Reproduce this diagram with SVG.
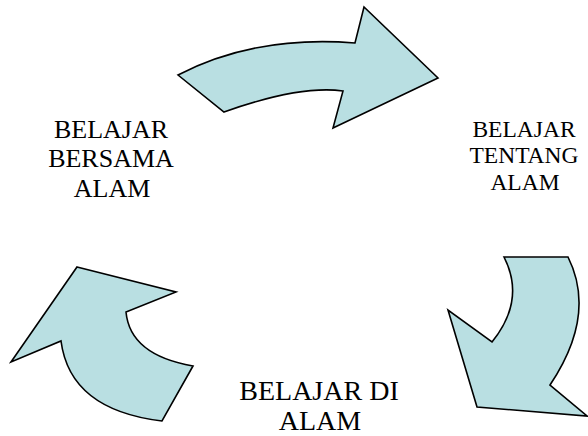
<svg xmlns="http://www.w3.org/2000/svg" width="588" height="436" viewBox="0 0 588 436">
<style>
.arrow{fill:#B9DFE2;stroke:#000;stroke-width:1.6;stroke-linejoin:miter}
.lbl{font-family:"Liberation Serif","Times New Roman",serif;fill:#000;text-anchor:middle}
</style>
<rect width="588" height="436" fill="#fff"/>
<g id="connectors">
<path id="arrow-top" class="arrow" d="M178,75 Q255,35 355,43 L364,7 L438,78 L333,128 L343,91 Q300,85 224,112 Z"/>
<path id="arrow-right" class="arrow" d="M504,257 L568,257 Q597,315 550,385 L587,416 L477,407 L448,310 L492,342 Q526,300 504,257 Z"/>
<path id="arrow-left" class="arrow" d="M77,267 L176,292 L126,312 Q130,355 193,366 L162,421 Q70,410 61,341 L11,362 Z"/>
</g>
<g id="node-bersama">
<text class="lbl" font-size="26" x="111" y="138">BELAJAR</text>
<text class="lbl" font-size="26" x="111" y="167">BERSAMA</text>
<text class="lbl" font-size="26" x="112" y="197">ALAM</text>
</g>
<g id="node-tentang">
<text class="lbl" font-size="23.5" x="524" y="137">BELAJAR</text>
<text class="lbl" font-size="23.5" x="524" y="163">TENTANG</text>
<text class="lbl" font-size="23.5" x="525" y="190">ALAM</text>
</g>
<g id="node-di">
<text class="lbl" font-size="28" x="319" y="400">BELAJAR DI</text>
<text class="lbl" font-size="28" x="320" y="430">ALAM</text>
</g>
</svg>
